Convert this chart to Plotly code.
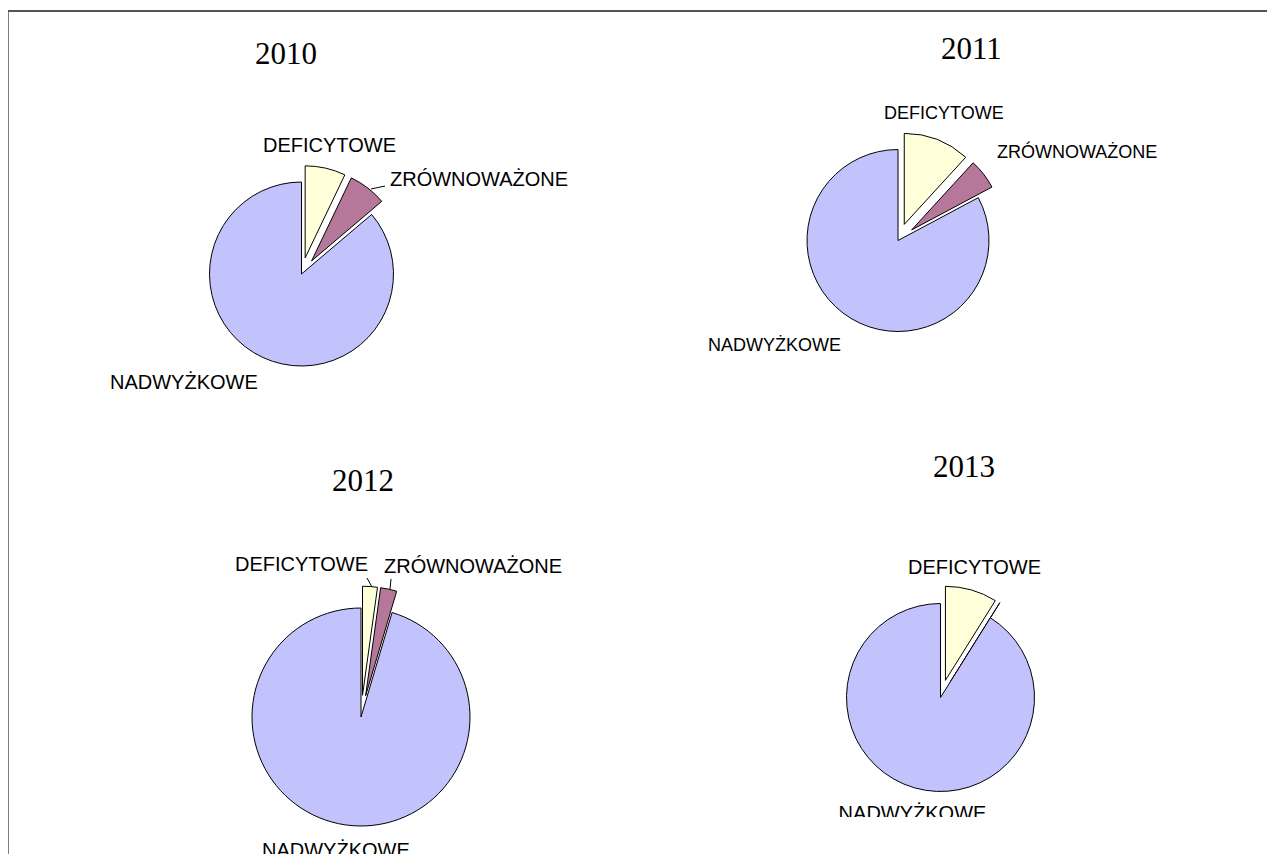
import plotly.graph_objects as go

W, H = 1275, 854
OFF = 8  # the page body margin that shifts the figure

years = ["2010", "2011", "2012", "2013"]
categories = ["DEFICYTOWE", "ZRÓWNOWAŻONE", "NADWYŻKOWE"]
share_2010 = [7.1, 6.7, 86.2]
share_2011 = [11.8, 5.4, 82.8]
share_2012 = [2.2, 2.4, 95.4]
share_2013 = [8.9, 0.0, 91.1]
shares = [share_2010, share_2011, share_2012, share_2013]

colors = ["#FFFFD9", "#B5789A", "#C2C2FC"]

# pixel layout of each pie (screen coords): centre, radius, pull, label font, title pos, label pos
pies = [
    dict(cx=301.5, cy=274, r=92, pull=0.18, fs=20, title=(285.5, 54),
         labels={0: (329.5, 144.5), 1: (478.5, 179), 2: (184, 381.5)}),
    dict(cx=898, cy=240.5, r=91, pull=0.19, fs=18, title=(971.5, 48),
         labels={0: (944, 113.5), 1: (1076.5, 152), 2: (774, 344.5)}),
    dict(cx=361, cy=717, r=109, pull=0.2, fs=20, title=(362.5, 481),
         labels={0: (301, 564), 1: (472.5, 565.5), 2: (336, 850)}),
    dict(cx=940.5, cy=697.5, r=94, pull=0.19, fs=20, title=(964, 466.5),
         labels={0: (974, 566.5)}),
]
# label cut by the lower edge of its chart box in the source
clipped_label = dict(text=categories[2], x=912.5, y=815, fs=20, clip_y=817)


def px_x(x):
    return (x - OFF) / W


def px_y(y):
    return 1 - (y - OFF) / H


fig = go.Figure()
annotations = []
sans = "Liberation Sans, Arial, sans-serif"

for year, vals, p in zip(years, shares, pies):
    half = p["r"] * (1 + p["pull"])
    fig.add_trace(go.Pie(
        labels=categories,
        values=vals,
        sort=False,
        direction="clockwise",
        rotation=0,
        pull=[p["pull"], p["pull"], 0],
        marker=dict(colors=colors, line=dict(color="#000000", width=1)),
        textinfo="none",
        hoverinfo="label+percent",
        showlegend=False,
        domain=dict(x=[px_x(p["cx"] - half), px_x(p["cx"] + half)],
                    y=[px_y(p["cy"] + half), px_y(p["cy"] - half)]),
    ))
    tx, ty = p["title"]
    annotations.append(dict(
        text=year, x=px_x(tx), y=px_y(ty), xref="paper", yref="paper",
        showarrow=False, xanchor="center", yanchor="middle",
        font=dict(family="Liberation Serif, Times New Roman, serif", size=31, color="#000000"),
    ))
    for i, (lx, ly) in p["labels"].items():
        annotations.append(dict(
            text=categories[i], x=px_x(lx), y=px_y(ly), xref="paper", yref="paper",
            showarrow=False, xanchor="center", yanchor="middle",
            font=dict(family=sans, size=p["fs"], color="#000000"),
        ))

# hidden pixel-unit axes whose area ends where the 2013 label is cut
fig.add_trace(go.Scatter(
    x=[clipped_label["x"]], y=[clipped_label["y"]],
    mode="text", text=[clipped_label["text"]], textposition="middle center",
    textfont=dict(family=sans, size=clipped_label["fs"], color="#000000"),
    cliponaxis=True, hoverinfo="skip", showlegend=False,
))
fig.update_xaxes(range=[OFF, OFF + W], domain=[0, 1], visible=False, fixedrange=True)
fig.update_yaxes(range=[clipped_label["clip_y"], OFF], domain=[px_y(clipped_label["clip_y"]), 1],
                 visible=False, fixedrange=True)

# frame and leader lines
shapes = [
    dict(type="line", xref="paper", yref="paper", x0=px_x(7.5), x1=px_x(7.5),
         y0=px_y(10), y1=px_y(870), line=dict(color="#000000", width=2)),
    dict(type="line", xref="paper", yref="paper", x0=px_x(6.5), x1=px_x(1290),
         y0=px_y(11), y1=px_y(11), line=dict(color="#555555", width=2)),
    dict(type="line", xref="paper", yref="paper", x0=px_x(371), x1=px_x(385),
         y0=px_y(189), y1=px_y(186), line=dict(color="#000000", width=1)),
    dict(type="line", xref="paper", yref="paper", x0=px_x(367), x1=px_x(372),
         y0=px_y(578), y1=px_y(587), line=dict(color="#000000", width=1)),
    dict(type="line", xref="paper", yref="paper", x0=px_x(391), x1=px_x(390),
         y0=px_y(579), y1=px_y(589), line=dict(color="#000000", width=1)),
]

fig.update_layout(
    width=W,
    height=H,
    margin=dict(l=0, r=0, t=0, b=0),
    paper_bgcolor="#FFFFFF",
    plot_bgcolor="rgba(0,0,0,0)",
    annotations=annotations,
    shapes=shapes,
)

fig.write_html("out.html")
